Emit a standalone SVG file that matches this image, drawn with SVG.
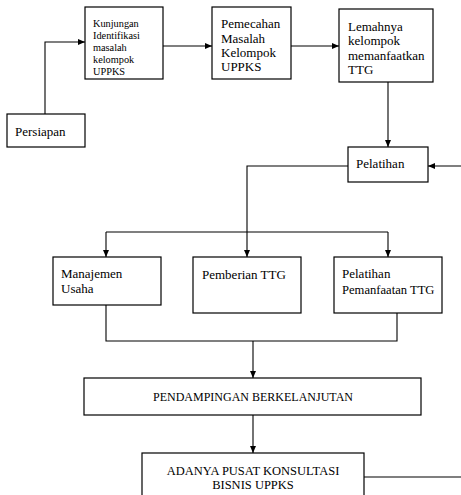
<svg xmlns="http://www.w3.org/2000/svg" width="461" height="495" viewBox="0 0 461 495">
<defs>
<marker id="ah" markerWidth="7" markerHeight="6" refX="7" refY="3" orient="auto" markerUnits="userSpaceOnUse">
<path d="M0,0 L7,3 L0,6 Z" fill="#000"/>
</marker>
</defs>
<rect x="0" y="0" width="461" height="495" fill="#fff"/>
<g id="connectors" fill="none" stroke="#000" stroke-width="1.1">
<path d="M45,114 V42 H85" marker-end="url(#ah)"/>
<path d="M163,46 H212" marker-end="url(#ah)"/>
<path d="M291,46 H339" marker-end="url(#ah)"/>
<path d="M388,82 V147" marker-end="url(#ah)"/>
<path d="M461,166 H428" marker-end="url(#ah)"/>
<path d="M348,166 H247 V257" marker-end="url(#ah)"/>
<path d="M106,232 H388"/>
<path d="M106,232 V257" marker-end="url(#ah)"/>
<path d="M388,232 V257" marker-end="url(#ah)"/>
<path d="M106,305 V341 H397 V313"/>
<path d="M253,341 V378" marker-end="url(#ah)"/>
<path d="M253,415 V453" marker-end="url(#ah)"/>
<path d="M364,477 H461"/>
</g>
<g id="persiapan">
<rect x="7" y="114" width="78" height="33" fill="#fff" stroke="#000" stroke-width="1.2"/>
<text x="15" y="136" font-family="Liberation Serif" font-size="13">Persiapan</text>
</g>
<g id="kunjungan">
<rect x="85" y="7" width="78" height="72" fill="#fff" stroke="#000" stroke-width="1.2"/>
<text x="93" y="27" font-family="Liberation Serif" font-size="10.3">Kunjungan</text>
<text x="93" y="39" font-family="Liberation Serif" font-size="10.3">Identifikasi</text>
<text x="93" y="51" font-family="Liberation Serif" font-size="10.3">masalah</text>
<text x="93" y="63" font-family="Liberation Serif" font-size="10.3">kelompok</text>
<text x="93" y="75" font-family="Liberation Serif" font-size="10.3">UPPKS</text>
</g>
<g id="pemecahan">
<rect x="212" y="7" width="79" height="72" fill="#fff" stroke="#000" stroke-width="1.2"/>
<text x="221" y="28" font-family="Liberation Serif" font-size="13">Pemecahan</text>
<text x="221" y="43" font-family="Liberation Serif" font-size="13">Masalah</text>
<text x="221" y="57" font-family="Liberation Serif" font-size="13">Kelompok</text>
<text x="221" y="71" font-family="Liberation Serif" font-size="13">UPPKS</text>
</g>
<g id="lemahnya">
<rect x="339" y="9" width="94" height="73" fill="#fff" stroke="#000" stroke-width="1.2"/>
<text x="348" y="31" font-family="Liberation Serif" font-size="13">Lemahnya</text>
<text x="348" y="45" font-family="Liberation Serif" font-size="13">kelompok</text>
<text x="348" y="60" font-family="Liberation Serif" font-size="13">memanfaatkan</text>
<text x="348" y="74" font-family="Liberation Serif" font-size="13">TTG</text>
</g>
<g id="pelatihan">
<rect x="348" y="147" width="80" height="35" fill="#fff" stroke="#000" stroke-width="1.2"/>
<text x="356" y="168" font-family="Liberation Serif" font-size="13">Pelatihan</text>
</g>
<g id="manajemen">
<rect x="53" y="257" width="108" height="48" fill="#fff" stroke="#000" stroke-width="1.2"/>
<text x="61" y="278" font-family="Liberation Serif" font-size="13">Manajemen</text>
<text x="61" y="293" font-family="Liberation Serif" font-size="13">Usaha</text>
</g>
<g id="pemberian">
<rect x="193" y="257" width="108" height="56" fill="#fff" stroke="#000" stroke-width="1.2"/>
<text x="202" y="279" font-family="Liberation Serif" font-size="13">Pemberian TTG</text>
</g>
<g id="pelatihan-pemanfaatan">
<rect x="334" y="257" width="108" height="56" fill="#fff" stroke="#000" stroke-width="1.2"/>
<text x="342" y="278" font-family="Liberation Serif" font-size="13">Pelatihan</text>
<text x="342" y="294" font-family="Liberation Serif" font-size="12.6">Pemanfaatan TTG</text>
</g>
<g id="pendampingan">
<rect x="84" y="378" width="337" height="37" fill="#fff" stroke="#000" stroke-width="1.2"/>
<text x="253" y="401" font-family="Liberation Serif" font-size="12" text-anchor="middle">PENDAMPINGAN BERKELANJUTAN</text>
</g>
<g id="adanya">
<rect x="142" y="453" width="222" height="50" fill="#fff" stroke="#000" stroke-width="1.2"/>
<text x="253" y="475" font-family="Liberation Serif" font-size="12.5" text-anchor="middle">ADANYA PUSAT KONSULTASI</text>
<text x="253" y="489" font-family="Liberation Serif" font-size="12.5" text-anchor="middle">BISNIS UPPKS</text>
</g>
</svg>
